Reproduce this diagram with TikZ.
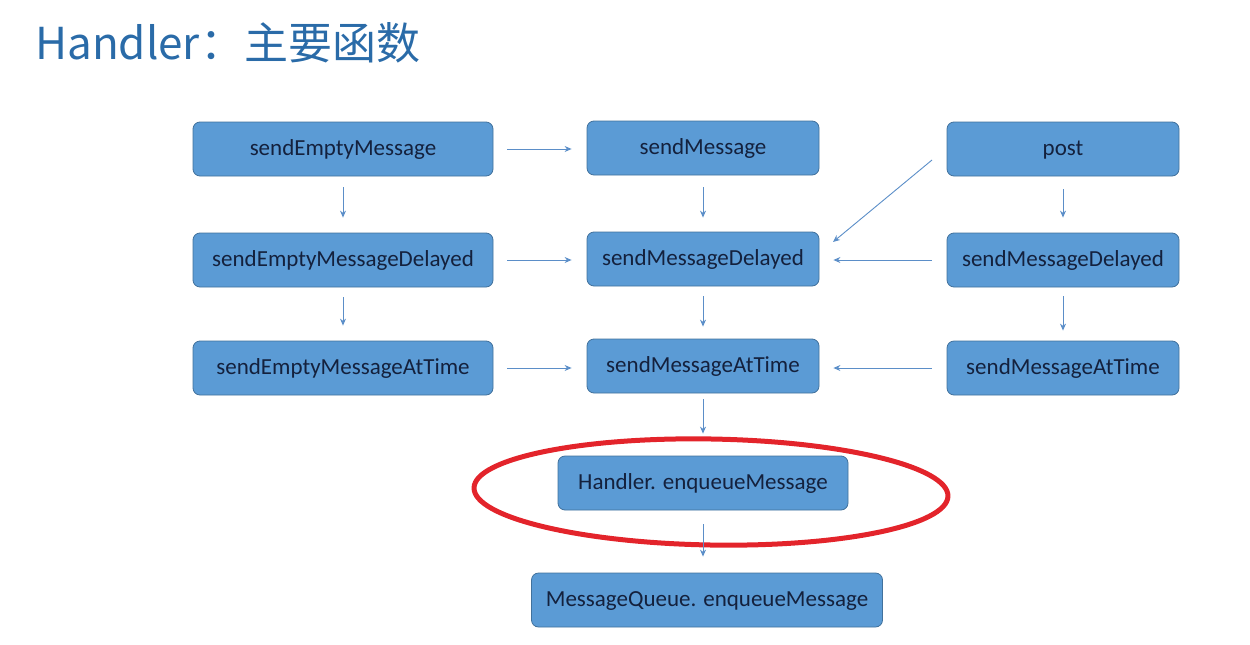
\documentclass[tikz,border=0pt]{standalone}
\usepackage{fontspec}
\setmainfont{Carlito}
\newfontfamily\cjk{Noto Sans CJK SC}
\usetikzlibrary{arrows.meta}
\definecolor{boxfill}{HTML}{5B9BD5}
\definecolor{boxline}{HTML}{41719C}
\definecolor{arr}{HTML}{5B8EC8}
\definecolor{titleblue}{HTML}{2A6BA8}
\definecolor{txt}{HTML}{14213D}
\definecolor{ringred}{HTML}{E3242B}
\tikzset{
  fn/.style={draw=boxline, line width=0.8pt, fill=boxfill, rounded corners=7pt,
    minimum height=54pt, text=txt, font=\fontsize{23}{27}\selectfont, inner sep=0pt,
    text depth=2pt},
  link/.style={draw=arr, line width=0.9pt, -{Stealth[length=7pt,width=6pt]}},
}
\begin{document}
\begin{tikzpicture}[x=1pt,y=-1pt]
\useasboundingbox (0,0) rectangle (1250,645);
\node[anchor=base west, text=titleblue, font=\cjk\fontsize{44}{50}\selectfont, inner sep=0pt] (title) at (35,59) {Handler：主要函数};

\node[fn, minimum width=300pt] (se1) at (343,149) {sendEmptyMessage};
\node[fn, minimum width=300pt] (se2) at (343,260) {sendEmptyMessageDelayed};
\node[fn, minimum width=300pt] (se3) at (343,368) {sendEmptyMessageAtTime};
\node[fn, minimum width=232pt] (sm1) at (703,148) {sendMessage};
\node[fn, minimum width=232pt] (sm2) at (703,259) {sendMessageDelayed};
\node[fn, minimum width=232pt] (sm3) at (703,366) {sendMessageAtTime};
\node[fn, minimum width=232pt] (po1) at (1063,149) {post};
\node[fn, minimum width=232pt] (po2) at (1063,260) {sendMessageDelayed};
\node[fn, minimum width=232pt] (po3) at (1063,368) {sendMessageAtTime};
\node[fn, minimum width=290pt] (he) at (703,483) {Handler. enqueueMessage};
\node[fn, minimum width=351pt] (mq) at (707,600) {MessageQueue. enqueueMessage};

\draw[ringred, line width=5pt, rotate around={-1:(711,492)}] (711,492) ellipse [x radius=237pt, y radius=53pt];

% horizontal arrows
\draw[link, shorten <=14pt, shorten >=15pt] (se1.east) -- (sm1.west |- se1.east);
\draw[link, shorten <=14pt, shorten >=15pt] (se2.east) -- (sm2.west |- se2.east);
\draw[link, shorten <=14pt, shorten >=15pt] (se3.east) -- (sm3.west |- se3.east);
\draw[link, shorten <=15pt, shorten >=14pt] (po2.west) -- (sm2.east |- po2.west);
\draw[link, shorten <=15pt, shorten >=14pt] (po3.west) -- (sm3.east |- po3.west);
% vertical arrows
\draw[link, shorten <=11pt, shorten >=15pt] (se1.south) -- (se2.north);
\draw[link, shorten <=10pt, shorten >=15pt] (se2.south) -- (se3.north);
\draw[link, shorten <=12pt, shorten >=14pt] (sm1.south) -- (sm2.north);
\draw[link, shorten <=10pt, shorten >=12pt] (sm2.south) -- (sm3.north);
\draw[link, shorten <=13pt, shorten >=15pt] (po1.south) -- (po2.north);
\draw[link, shorten <=9pt, shorten >=10pt] (po2.south) -- (po3.north);
\draw[link, shorten <=6pt, shorten >=22pt] (sm3.south) -- (he.north);
\draw[link, shorten <=14pt, shorten >=16pt] (he.south) -- (mq.north -| he.south);
% diagonal
\coordinate (dgs) at (932,160);
\coordinate (dge) at (833,242);
\draw[link] (dgs) -- (dge);
\end{tikzpicture}
\end{document}
